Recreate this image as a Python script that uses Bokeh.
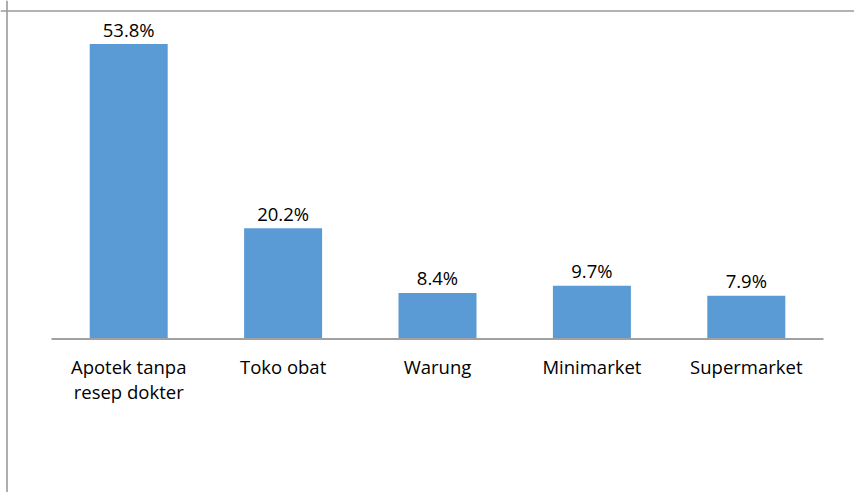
from bokeh.plotting import figure
from bokeh.models import Range1d, ColumnDataSource, Span
from bokeh.core.properties import value
from bokeh.embed import file_html
from bokeh.resources import INLINE

categories = ["Apotek tanpa\nresep dokter", "Toko obat", "Warung", "Minimarket", "Supermarket"]
values = [53.8, 20.2, 8.4, 9.7, 7.9]
labels = ["53.8%", "20.2%", "8.4%", "9.7%", "7.9%"]

W, H = 854, 492
# layout in pixels (frame covers whole window)
X0_PX, CAT_PX = 51.0, 154.4      # left of first category, width per category
BASE_PX, PX_PER_UNIT = 338.5, 5.483

def px_to_x(px):
    return (px - X0_PX) / CAT_PX - 0.5

def py_to_y(py):
    return (BASE_PX - py) / PX_PER_UNIT

p = figure(width=W, height=H, output_backend="svg", toolbar_location=None,
           x_range=Range1d(px_to_x(0), px_to_x(W)),
           y_range=Range1d(py_to_y(H), py_to_y(0)),
           min_border=0, min_border_left=0, min_border_right=0,
           min_border_top=0, min_border_bottom=0)
p.axis.visible = False
p.grid.visible = False
p.outline_line_color = None
p.background_fill_color = "white"
p.border_fill_color = "white"

xs = list(range(len(categories)))
src = ColumnDataSource(dict(x=xs, top=values, lab=labels, cat=categories))

p.vbar(x="x", top="top", bottom=0, width=78 / CAT_PX, source=src,
       fill_color="#5B9BD5", line_color=None)

# baseline (category axis line)
p.segment(x0=[-0.5], x1=[len(categories) - 0.5], y0=[0], y1=[0],
          line_color="#a0a0a0", line_width=1.8)

# outer chart border (top and left visible)
p.add_layout(Span(location=px_to_x(6.5), dimension="height", line_color="#9a9a9a", line_width=1.6))
p.add_layout(Span(location=py_to_y(10.5), dimension="width", line_color="#9a9a9a", line_width=1.6))

p.text(x="x", y="top", text="lab", source=src, text_align="center",
       text_baseline="alphabetic", y_offset=-15,
       text_font=value("Open Sans"), text_font_size="18.5px", text_color="#000000")

p.text(x="x", y=0, text="cat", source=src, text_align="center",
       text_baseline="top", y_offset=15, text_line_height=1.0,
       text_font=value("Open Sans"), text_font_size="18.5px", text_color="#000000")

open("out.html", "w").write(file_html(p, INLINE))
